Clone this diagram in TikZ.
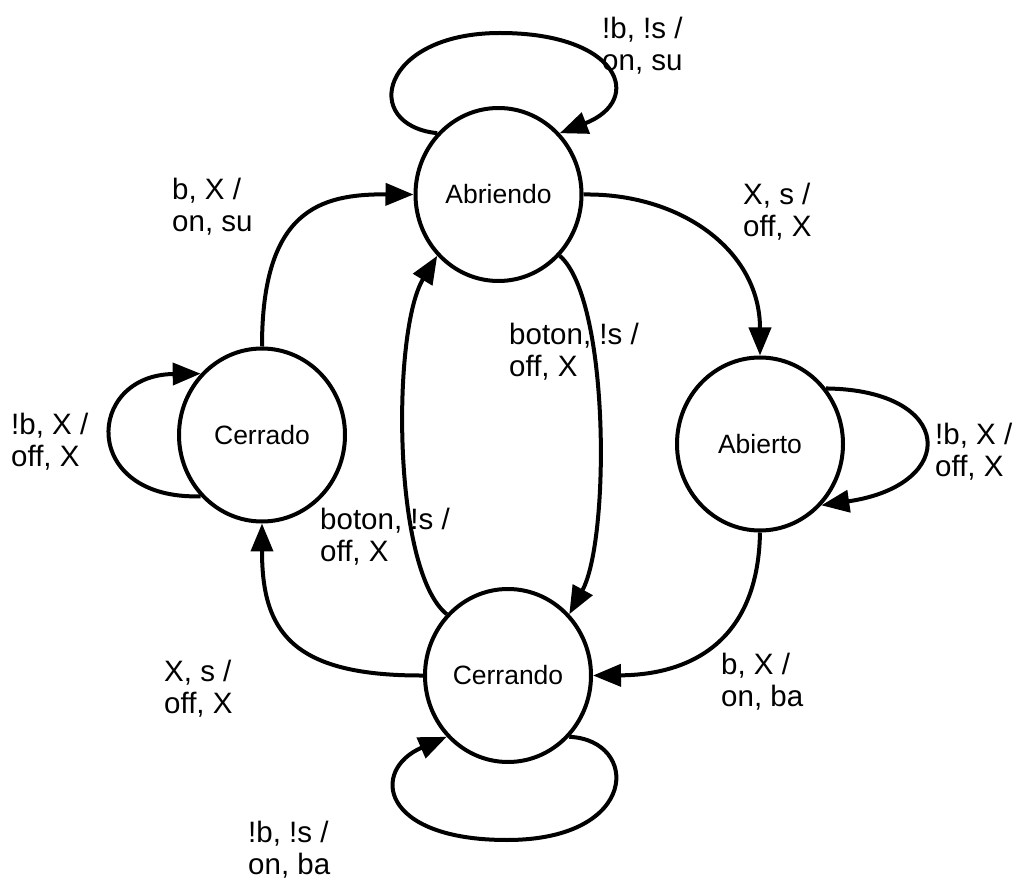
\documentclass[tikz,border=0pt]{standalone}
\usepackage{fontspec}
\setmainfont{Liberation Sans}
\usetikzlibrary{arrows.meta,shapes.geometric}
\begin{document}
\begin{tikzpicture}[x=1pt,y=-1pt,
  state/.style={ellipse,draw,line width=4pt,minimum width=166pt,minimum height=173pt,inner sep=0pt,font=\fontsize{26.5}{31}\selectfont},
  lbl/.style={anchor=north west,align=left,inner sep=0pt,font=\fontsize{29.5}{31.5}\selectfont},
  edge/.style={line width=4pt,-{Triangle[length=28pt,width=22pt]}}]
\useasboundingbox (0,0) rectangle (1021,882);
\node[state] (ab) at (498.5,194.5) {Abriendo};
\node[state] (cd) at (262,435) {Cerrado};
\node[state] (abt) at (760,444) {Abierto};
\node[state] (cg) at (508,675.5) {Cerrando};

\draw[edge] (ab.135) .. controls (360,125) and (380,33) .. (500,33) .. controls (620,33) and (645,100) .. (ab.45);
\draw[edge] (cd.north) .. controls (262,210) and (320,194) .. (ab.west);
\draw[edge] (ab.east) .. controls (680,193) and (760,250) .. (abt.north);
\draw[edge] (ab.-45) .. controls (610,300) and (610,540) .. (cg.45);
\draw[edge] (cg.135) .. controls (392,570) and (392,330) .. (ab.225);
\draw[edge] (abt.40) .. controls (955,390) and (960,485) .. (abt.-45);
\draw[edge] (abt.south) .. controls (758,650) and (680,675) .. (cg.east);
\draw[edge] (cg.west) .. controls (290,676) and (262,630) .. (cd.south);
\draw[edge] (cg.-45) .. controls (640,740) and (640,840) .. (507,840) .. controls (380,840) and (370,770) .. (cg.-135);
\draw[edge] (cd.225) .. controls (80,500) and (85,375) .. (cd.135);

\node[lbl] (l1) at (602,17) {!b, !s /\\on, su};
\node[lbl] (l2) at (172,178) {b, X /\\on, su};
\node[lbl] (l3) at (743,183) {X, s /\\off, X};
\node[lbl] (l4) at (509,323) {boton, !s /\\off, X};
\node[lbl] (l5) at (320,508) {boton, !s /\\off, X};
\node[lbl] (l6) at (935,423) {!b, X /\\off, X};
\node[lbl] (l7) at (721,653) {b, X /\\on, ba};
\node[lbl] (l8) at (164,660) {X, s /\\off, X};
\node[lbl] (l9) at (248,821) {!b, !s /\\on, ba};
\node[lbl] (l10) at (11,413) {!b, X /\\off, X};
\end{tikzpicture}
\end{document}
